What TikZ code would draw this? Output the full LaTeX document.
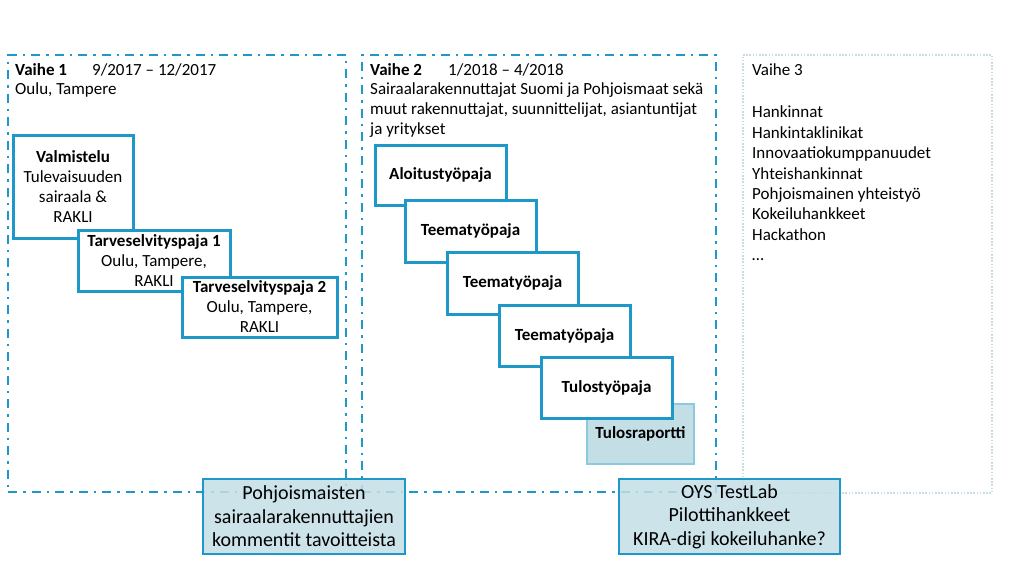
\documentclass[tikz,border=0pt]{standalone}
\usepackage{fontspec}
\setmainfont{Carlito}
\usetikzlibrary{positioning}
\definecolor{frameblue}{RGB}{30,152,200}
\definecolor{paleblue}{RGB}{196,222,230}
\definecolor{dotgrey}{RGB}{200,220,230}
\definecolor{lightedge}{RGB}{140,200,222}

\begin{document}
\begin{tikzpicture}[
    x=1pt, y=-1pt,
    phase/.style={draw=frameblue, line width=2.6pt, dash pattern=on 9pt off 6pt on 2.5pt off 6pt,
                  inner sep=0pt},
    laterphase/.style={draw=dotgrey, line width=2pt, dash pattern=on 1.6pt off 1.6pt, inner sep=0pt},
    stepbox/.style={draw=frameblue, line width=3pt, fill=white, align=center, inner sep=0pt,
                    font=\fontsize{17}{20}\selectfont},
    reportbox/.style={draw=lightedge, line width=1.4pt, fill=paleblue, align=center, inner sep=0pt,
                      font=\fontsize{17}{20}\selectfont\bfseries},
    notebox/.style={draw=frameblue, line width=2.4pt, fill=paleblue, fill opacity=0.85, text opacity=1,
                    align=center, inner sep=0pt, font=\fontsize{20}{23.5}\selectfont},
    info/.style={anchor=north west, align=left, inner sep=0pt, font=\fontsize{17}{19.8}\selectfont}
]
    \useasboundingbox (0,0) rectangle (1024,576);

    % Phase frames
    \node[phase, minimum width=338, minimum height=437] (vaihe1) at (177,273.5) {};
    \node[phase, minimum width=354, minimum height=437] (vaihe2) at (539,273.5) {};
    \node[laterphase, minimum width=249, minimum height=438] (vaihe3) at (867.5,274) {};

    % Phase texts
    \node[info] (v1text) at (15,63)
        {\makebox[77pt][l]{\textbf{Vaihe 1}}9/2017 -- 12/2017\\Oulu, Tampere};
    \node[info] (v2text) at (370,63)
        {\makebox[78pt][l]{\textbf{Vaihe 2}}1/2018 -- 4/2018\\
         Sairaalarakennuttajat Suomi ja Pohjoismaat sekä\\
         muut rakennuttajat, suunnittelijat, asiantuntijat\\
         ja yritykset};
    \node[info, font=\fontsize{17}{20.4}\selectfont] (v3text) at (752,63)
        {Vaihe 3\\[22.5pt]
         Hankinnat\\Hankintaklinikat\\Innovaatiokumppanuudet\\Yhteishankinnat\\
         Pohjoismainen yhteistyö\\Kokeiluhankkeet\\Hackathon\\\dots};

    % Vaihe 1 steps
    \node[stepbox, minimum width=120, minimum height=103] (valm) at (73,186.5)
        {\textbf{Valmistelu}\\Tulevaisuuden\\sairaala \&\\RAKLI};
    \node[stepbox, minimum width=152, minimum height=61] (tarve1) at (154,260.5)
        {\textbf{Tarveselvityspaja 1}\\Oulu, Tampere,\\RAKLI};
    \node[stepbox, minimum width=155, minimum height=60] (tarve2) at (259.5,307)
        {\textbf{Tarveselvityspaja 2}\\Oulu, Tampere,\\RAKLI};

    % Vaihe 2 steps
    \node[stepbox, minimum width=131, minimum height=60] (aloitus) at (440.5,175) {\textbf{Aloitustyöpaja}};
    \node[stepbox, minimum width=131, minimum height=62] (teema1) at (470.5,231) {\textbf{Teematyöpaja}};
    \node[stepbox, minimum width=131, minimum height=62] (teema2) at (512.5,283) {\textbf{Teematyöpaja}};
    \node[stepbox, minimum width=131, minimum height=61] (teema3) at (564.5,335.5) {\textbf{Teematyöpaja}};
    \node[reportbox, minimum width=107, minimum height=60] (raportti) at (640.5,434) {Tulosraportti};
    \node[stepbox, minimum width=131, minimum height=61] (tulos) at (606.5,387.5) {\textbf{Tulostyöpaja}};

    % Notes below the frames
    \node[notebox, minimum width=202, minimum height=75] (pohjoismaat) at (304,516.5)
        {Pohjoismaisten\\sairaalarakennuttajien\\kommentit tavoitteista};
    \node[notebox, minimum width=221, minimum height=75] (testlab) at (729.5,516.5)
        {OYS TestLab\\Pilottihankkeet\\KIRA-digi kokeiluhanke?};
\end{tikzpicture}
\end{document}
